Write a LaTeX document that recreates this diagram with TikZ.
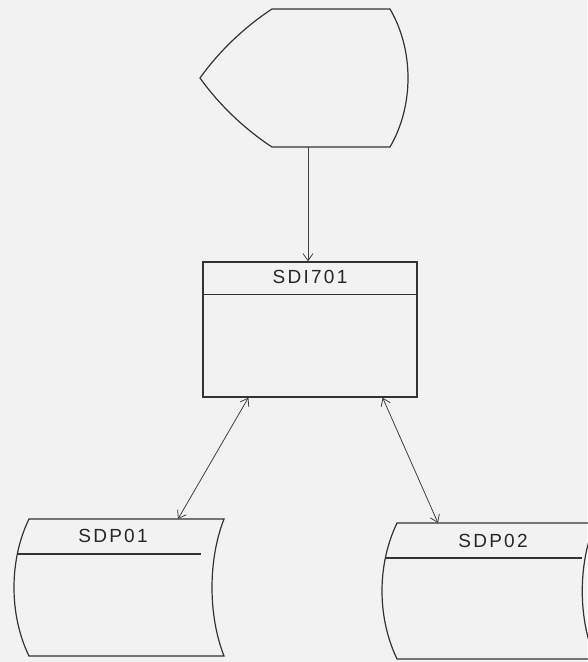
\documentclass[tikz,border=0pt]{standalone}
\usepackage{fontspec}
\newfontfamily\handfont[LetterSpace=12]{Liberation Sans}
\usetikzlibrary{positioning}
\usetikzlibrary{arrows.meta}

\tikzset{
	pen/.style={draw=black!80, line width=1.2pt},
	flow/.style={draw=black!75, line width=0.8pt},
	title/.style={font=\handfont\fontsize{19}{22}\selectfont, text=black!85, inner sep=0pt},
}

\begin{document}
\begin{tikzpicture}[x=1pt, y=-1pt]
		\fill[black!5] (0,0) rectangle (587,662);
		\useasboundingbox (0,0) rectangle (587,662);

		% display
		\draw[pen] (272,9) -- (390,9)
			.. controls (414,50) and (414,106) .. (390,147) -- (272,147)
			.. controls (246,130) and (220,106) .. (200,78)
			.. controls (220,50) and (246,26) .. (272,9) -- cycle;
		\coordinate (Display) at (308,147);

		% process box
		\node[rectangle, pen, minimum width=214pt, minimum height=135pt] (SDI701box) at (310,329.5) {};
		\draw[pen] ([yshift=-33pt]SDI701box.north west) -- ([yshift=-33pt]SDI701box.north east);
		\node[title] (SDI701) [below=9pt of SDI701box.north] {SDI701};

		% stored data, left
		\draw[pen] (29,519) -- (224,519)
			.. controls (208,560) and (208,615) .. (224,656) -- (29,656)
			.. controls (9,615) and (9,560) .. (29,519) -- cycle;
		\draw[pen] (17,554) -- (201,554);
		\node[title] (SDP01) at (113,536) {SDP01};
		\coordinate (SDP01top) at (178,519);

		% stored data, right
		\draw[pen] (397,523) -- (595,523)
			.. controls (578,565) and (578,617) .. (595,659) -- (397,659)
			.. controls (377,617) and (377,565) .. (397,523) -- cycle;
		\draw[pen] (385,558) -- (582,558);
		\node[title] (SDP02) at (493,541) {SDP02};
		\coordinate (SDP02top) at (438,523);

		\draw[flow, -{Straight Barb[length=2.5mm, width=3.5mm]}] (Display) -- (Display |- SDI701box.north);
		\draw[flow, {Straight Barb[length=2.5mm, width=3.5mm]}-{Straight Barb[length=2.5mm, width=3.5mm]}] ([xshift=46pt]SDI701box.south west) -- (SDP01top);
		\draw[flow, {Straight Barb[length=2.5mm, width=3.5mm]}-{Straight Barb[length=2.5mm, width=3.5mm]}] ([xshift=-35pt]SDI701box.south east) -- (SDP02top);
	\end{tikzpicture}
\end{document}
